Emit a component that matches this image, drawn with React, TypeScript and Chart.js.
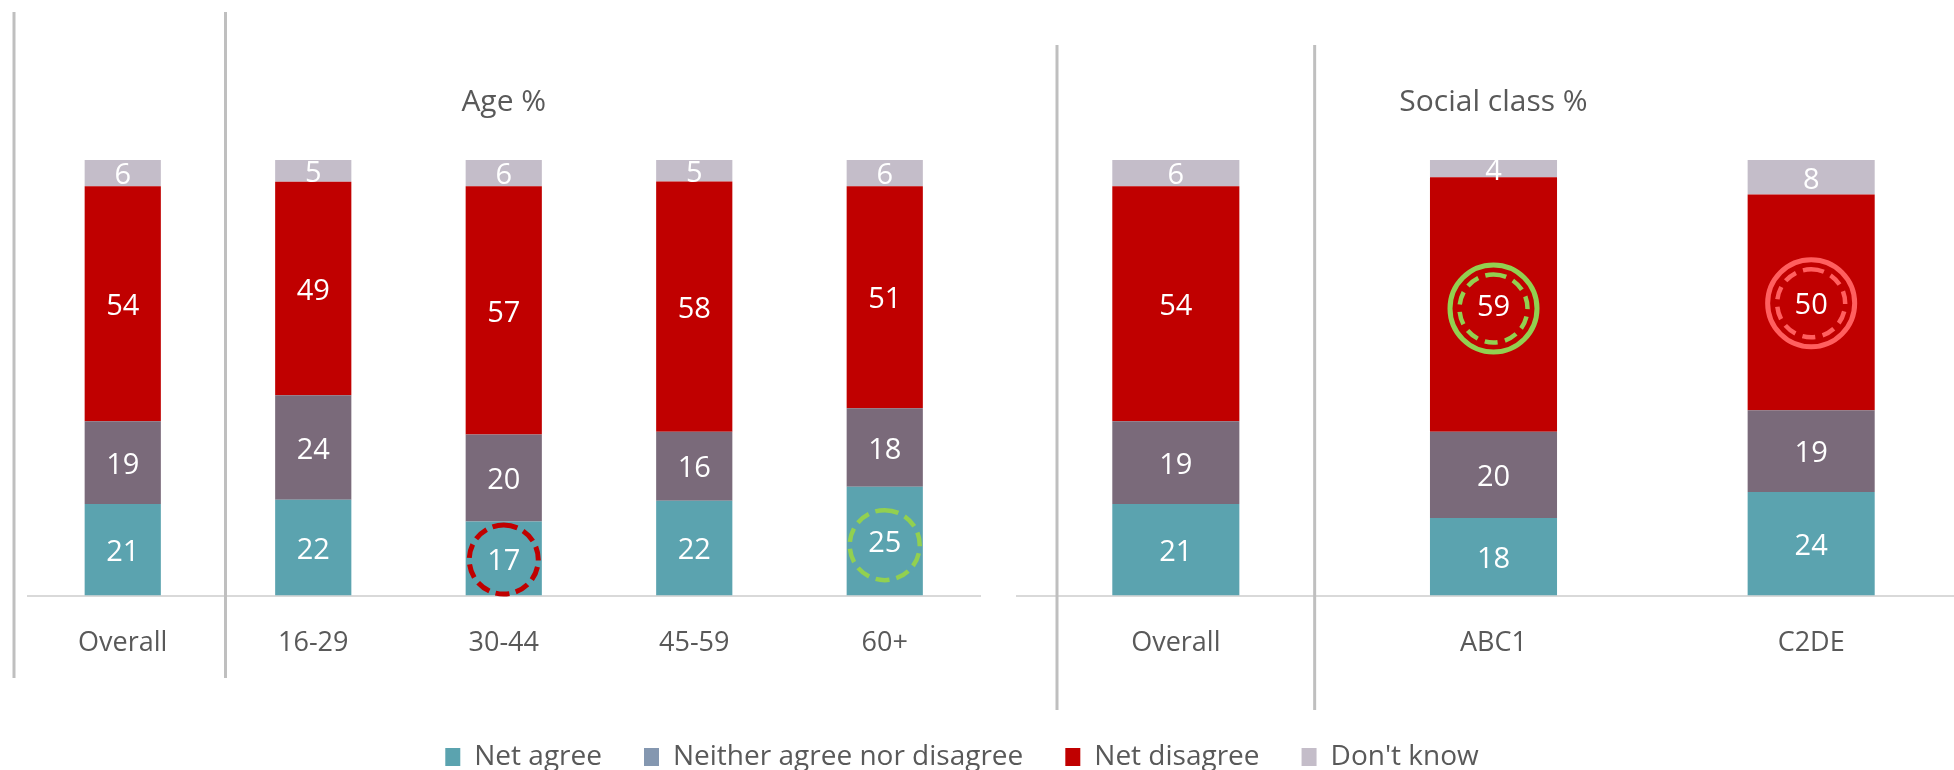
import React, { useEffect, useRef } from 'react';
import { Chart, registerables } from 'chart.js';

Chart.register(...registerables);
Chart.defaults.font.family = "'Open Sans', 'Noto Sans', sans-serif";

// ---------- Data ----------
const seriesNames = ['Net agree', 'Neither agree nor disagree', 'Net disagree', "Don't know"];

const ageTitle = 'Age %';
const ageCategories = ['Overall', '16-29', '30-44', '45-59', '60+'];
const ageNetAgree = [21, 22, 17, 22, 25];
const ageNeither = [19, 24, 20, 16, 18];
const ageNetDisagree = [54, 49, 57, 58, 51];
const ageDontKnow = [6, 5, 6, 5, 6];

const classTitle = 'Social class %';
const classCategories = ['Overall', 'ABC1', 'C2DE'];
const classNetAgree = [21, 18, 24];
const classNeither = [19, 20, 19];
const classNetDisagree = [54, 59, 50];
const classDontKnow = [6, 4, 8];

// highlighted values (category, series index, ring style)
const ageHighlights = [
  { category: '30-44', series: 0, style: 'redDashed', dy: 1 },
  { category: '60+', series: 0, style: 'greenDashed', dy: 4 },
];
const classHighlights = [
  { category: 'ABC1', series: 2, style: 'greenDouble', dy: 4 },
  { category: 'C2DE', series: 2, style: 'pinkDouble', dy: 1 },
];

// ---------- Styles ----------
const BAR_COLORS = ['#5BA3AF', '#7A6A7A', '#C00000', '#C4BDC9'];
const LEGEND_COLORS = ['#5BA3AF', '#8497B0', '#C00000', '#C4BDC9'];
const TEXT_COLOR = '#595959';

const RING_STYLES: Record<string, { r: number; color: string; width: number; dash: number[] }[]> = {
  redDashed: [{ r: 34.5, color: '#C00000', width: 5, dash: [14, 6.5] }],
  greenDashed: [{ r: 35, color: '#92D050', width: 4.5, dash: [14, 7] }],
  greenDouble: [
    { r: 43.5, color: '#92D050', width: 5, dash: [] },
    { r: 34, color: '#92D050', width: 4.5, dash: [13, 7.5] },
  ],
  pinkDouble: [
    { r: 43.5, color: '#FF5F5F', width: 5, dash: [] },
    { r: 34, color: '#FF5F5F', width: 4.5, dash: [13, 7.5] },
  ],
};

// ---------- Plugins ----------
const separatorsPlugin = {
  id: 'separators',
  afterDraw(chart: any, _args: any, opts: any) {
    const xs = chart.scales.x;
    const ctx = chart.ctx;
    ctx.save();
    ctx.strokeStyle = opts.color;
    ctx.lineWidth = opts.width;
    (opts.lines || []).forEach((l: any) => {
      const x = xs.getPixelForValue(l.at) + l.offset;
      ctx.beginPath();
      ctx.moveTo(x, opts.top);
      ctx.lineTo(x, opts.bottom);
      ctx.stroke();
    });
    ctx.restore();
  },
};

const highlightsPlugin = {
  id: 'highlights',
  afterDatasetsDraw(chart: any, _args: any, opts: any) {
    const ctx = chart.ctx;
    const labels = chart.data.labels as string[];
    (opts.items || []).forEach((h: any) => {
      const idx = labels.indexOf(h.category);
      const el = chart.getDatasetMeta(h.series).data[idx];
      if (!el) return;
      const { x, y } = el.getCenterPoint();
      (RING_STYLES[h.style] || []).forEach((ring) => {
        ctx.save();
        ctx.strokeStyle = ring.color;
        ctx.lineWidth = ring.width;
        ctx.setLineDash(ring.dash);
        ctx.beginPath();
        ctx.arc(x, y + (h.dy || 0), ring.r, -Math.PI / 2, Math.PI * 1.5);
        ctx.stroke();
        ctx.restore();
      });
    });
  },
};

const valueLabelsPlugin = {
  id: 'valueLabels',
  afterDatasetsDraw(chart: any, _args: any, opts: any) {
    const ctx = chart.ctx;
    ctx.save();
    ctx.font = `${opts.size}px ${Chart.defaults.font.family}`;
    ctx.fillStyle = opts.color;
    ctx.textAlign = 'center';
    ctx.textBaseline = 'middle';
    chart.data.datasets.forEach((ds: any, di: number) => {
      const meta = chart.getDatasetMeta(di);
      meta.data.forEach((el: any, i: number) => {
        const { x, y } = el.getCenterPoint();
        ctx.fillText(String(ds.rawValues[i]), x, y + opts.dy);
      });
    });
    ctx.restore();
  },
};

// ---------- Helpers ----------
function buildDatasets(series: number[][]) {
  const totals = series[0].map((_, i) => series.reduce((s, arr) => s + arr[i], 0));
  return seriesNames.map((name, si) => ({
    label: name,
    data: series[si].map((v, i) => (v / totals[i]) * 100),
    rawValues: series[si],
    backgroundColor: BAR_COLORS[si],
    borderWidth: 0,
    categoryPercentage: 1,
    barPercentage: 0.4,
  }));
}

function panelConfig(
  title: string,
  categories: string[],
  series: number[][],
  padding: { left: number; right: number },
  separators: any,
  highlights: any[]
): any {
  return {
    type: 'bar',
    data: { labels: categories, datasets: buildDatasets(series) },
    options: {
      responsive: false,
      animation: false,
      events: [],
      layout: { padding: { left: padding.left, right: padding.right, top: 0, bottom: 78 } },
      scales: {
        x: {
          stacked: true,
          grid: { display: false, drawTicks: false },
          border: { display: true, color: '#D9D9D9', width: 2 },
          ticks: { color: TEXT_COLOR, font: { size: 27 }, padding: 32, autoSkip: false, maxRotation: 0 },
        },
        y: { stacked: true, display: false, min: 0, max: 100 },
      },
      plugins: {
        legend: { display: false },
        tooltip: { enabled: false },
        title: {
          display: true,
          text: title,
          color: TEXT_COLOR,
          font: { size: 30, weight: 'normal' },
          padding: { top: 84, bottom: 40 },
        },
        separators,
        highlights: { items: highlights },
        valueLabels: { size: 29, color: '#FFFFFF', dy: 3 },
      },
    },
    plugins: [separatorsPlugin, highlightsPlugin, valueLabelsPlugin],
  };
}

function legendConfig(): any {
  return {
    type: 'bar',
    data: {
      labels: [],
      datasets: seriesNames.map((name, i) => ({ label: name, data: [], backgroundColor: LEGEND_COLORS[i] })),
    },
    options: {
      responsive: false,
      animation: false,
      events: [],
      layout: { padding: { left: 0, right: 30 } },
      scales: { x: { display: false }, y: { display: false } },
      plugins: {
        tooltip: { enabled: false },
        legend: {
          display: true,
          position: 'top',
          labels: {
            boxWidth: 15,
            boxHeight: 18,
            padding: 42,
            color: TEXT_COLOR,
            font: { size: 28 },
            generateLabels: () =>
              seriesNames.map((name, i) => ({
                text: name,
                fillStyle: LEGEND_COLORS[i],
                strokeStyle: LEGEND_COLORS[i],
                lineWidth: 0,
                hidden: false,
                datasetIndex: i,
                fontColor: TEXT_COLOR,
              })),
          },
        },
      },
    },
  };
}

export default function App() {
  const ageRef = useRef<HTMLCanvasElement>(null);
  const classRef = useRef<HTMLCanvasElement>(null);
  const legendRef = useRef<HTMLCanvasElement>(null);

  useEffect(() => {
    const charts: Chart[] = [];
    if (ageRef.current) {
      charts.push(
        new Chart(
          ageRef.current,
          panelConfig(
            ageTitle,
            ageCategories,
            [ageNetAgree, ageNeither, ageNetDisagree, ageDontKnow],
            { left: 27.5, right: 20 },
            {
              color: '#BFBFBF',
              width: 3,
              top: 12,
              bottom: 678,
              lines: [
                { at: -0.5, offset: -13.5 },
                { at: 0.5, offset: 7.5 },
              ],
            },
            ageHighlights
          )
        )
      );
    }
    if (classRef.current) {
      charts.push(
        new Chart(
          classRef.current,
          panelConfig(
            classTitle,
            classCategories,
            [classNetAgree, classNeither, classNetDisagree, classDontKnow],
            { left: 17, right: 30 },
            {
              color: '#BFBFBF',
              width: 3,
              top: 45,
              bottom: 710,
              lines: [
                { at: -0.5, offset: 40 },
                { at: 0.5, offset: -20 },
              ],
            },
            classHighlights
          )
        )
      );
    }
    if (legendRef.current) {
      charts.push(new Chart(legendRef.current, legendConfig()));
    }
    return () => charts.forEach((c) => c.destroy());
  }, []);

  return (
    <div
      style={{
        position: 'fixed',
        left: 0,
        top: 0,
        width: 1954,
        height: 770,
        overflow: 'hidden',
        background: '#FFFFFF',
      }}
    >
      <canvas ref={ageRef} width={1000} height={770} style={{ position: 'absolute', left: 0, top: 0 }} />
      <canvas ref={classRef} width={1000} height={770} style={{ position: 'absolute', left: 1000, top: 0 }} />
      <canvas ref={legendRef} width={1954} height={320} style={{ position: 'absolute', left: 0, top: 701 }} />
    </div>
  );
}
